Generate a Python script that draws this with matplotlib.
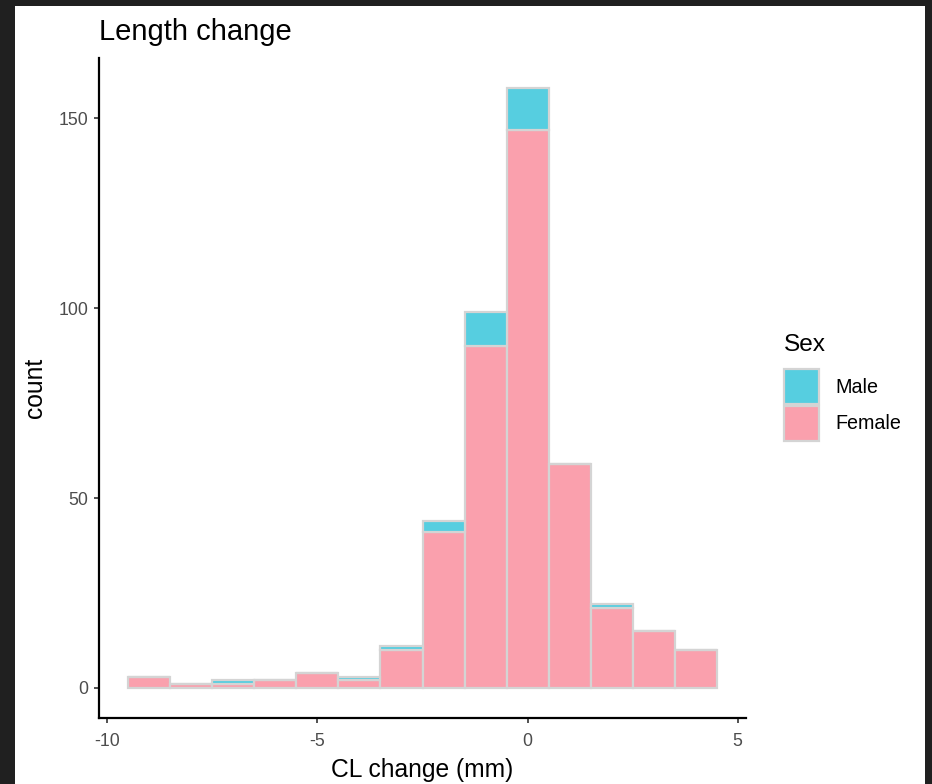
import matplotlib
matplotlib.use("Agg")
import matplotlib.pyplot as plt
from matplotlib.patches import Patch, Rectangle

plt.rcParams['font.family'] = ['Liberation Sans', 'DejaVu Sans']

# Data: histogram bin centres (width 1) and counts per sex
bin_centers = [-9, -8, -7, -6, -5, -4, -3, -2, -1, 0, 1, 2, 3, 4]
female = [3, 1, 1, 2, 4, 2, 10, 41, 90, 147, 59, 21, 15, 10]
male = [0, 0, 1, 0, 0, 1, 1, 3, 9, 11, 0, 1, 0, 0]
x_ticks = [-10, -5, 0, 5]
y_ticks = [0, 50, 100, 150]

pink = '#FAA0AD'
cyan = '#56CEE0'
edge = '#D4D4D4'

fig = plt.figure(figsize=(9.32, 7.84), dpi=100)
fig.patch.set_facecolor('#202020')
fig.add_artist(Rectangle((15/932, 0), (925-15)/932, (784-6)/784,
                         transform=fig.transFigure, facecolor='white',
                         edgecolor='none', zorder=-10))

ax = fig.add_axes([99/932, 1-718/784, (746-99)/932, (718-58)/784])
ax.set_facecolor('white')

ax.bar(bin_centers, female, width=1.0, color=pink, edgecolor=edge, linewidth=1.6, zorder=2)
ax.bar(bin_centers, male, width=1.0, bottom=female, color=cyan, edgecolor=edge, linewidth=1.6, zorder=2)

ax.set_xlim(-10.2, 5.2)
ax.set_ylim(-7.9, 165.9)
ax.set_xticks(x_ticks)
ax.set_xticklabels([str(v) for v in x_ticks])
ax.set_yticks(y_ticks)
ax.set_yticklabels([str(v) for v in y_ticks])

for s in ['top', 'right']:
    ax.spines[s].set_visible(False)
for s in ['left', 'bottom']:
    ax.spines[s].set_linewidth(1.6)
    ax.spines[s].set_color('black')

ax.tick_params(axis='both', length=3.6, width=1.2, color='#333333',
               labelsize=12.8, labelcolor='#4D4D4D')
ax.tick_params(axis='x', pad=7.2)
ax.tick_params(axis='y', pad=4)

ax.set_xlabel('CL change (mm)', fontsize=17.7, color='black', labelpad=5.5)
ax.set_ylabel('count', fontsize=17.7, color='black', labelpad=8)
ax.set_title('Length change', fontsize=21, color='black', loc='left', pad=13)

# Legend: title as text, entries as a title-less legend
fig.text(784/932, 1-345/784, 'Sex', fontsize=17.6, color='black',
         ha='left', va='center')
handles = [Patch(facecolor=cyan, edgecolor=edge, linewidth=1.6, label='Male'),
           Patch(facecolor=pink, edgecolor=edge, linewidth=1.6, label='Female')]
leg = fig.legend(handles=handles, loc='upper left',
                 bbox_to_anchor=(784/932, 1-369/784), frameon=False,
                 fontsize=14.2, handlelength=1.78,
                 handleheight=2.35, labelspacing=0.1, handletextpad=0.8,
                 borderpad=0, borderaxespad=0)

fig.savefig('out.png', dpi=100, facecolor=fig.get_facecolor())
